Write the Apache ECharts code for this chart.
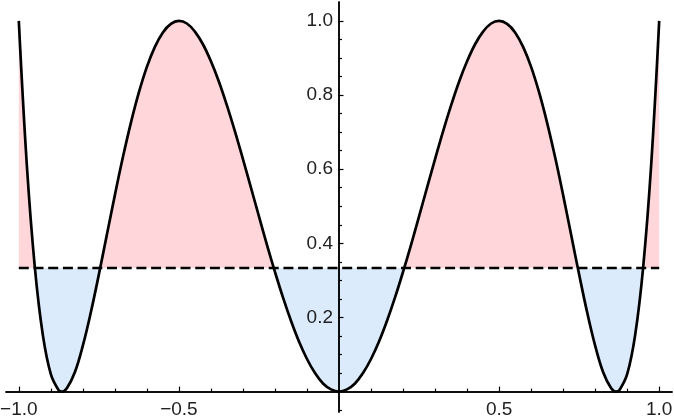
<!DOCTYPE html>
<html>
<head>
<meta charset="utf-8">
<script src="https://cdn.jsdelivr.net/npm/echarts@6/dist/echarts.min.js"></script>
<style>
  html, body { margin: 0; padding: 0; background: #fff; }
  #chart { width: 674px; height: 420px; }
</style>
</head>
<body>
<div id="chart"></div>
<script>
// sample positions along x and curve heights
var xs = [-1, -0.975, -0.95, -0.925, -0.9, -0.875, -0.866, -0.85, -0.825, -0.8,
  -0.775, -0.75, -0.725, -0.7, -0.675, -0.65, -0.625, -0.6, -0.575, -0.55,
  -0.525, -0.5, -0.475, -0.45, -0.425, -0.4, -0.375, -0.35, -0.325, -0.3,
  -0.275, -0.25, -0.225, -0.2, -0.175, -0.15, -0.125, -0.1, -0.075, -0.05,
  -0.025, 0, 0.025, 0.05, 0.075, 0.1, 0.125, 0.15, 0.175, 0.2,
  0.225, 0.25, 0.275, 0.3, 0.325, 0.35, 0.375, 0.4, 0.425, 0.45,
  0.475, 0.5, 0.525, 0.55, 0.575, 0.6, 0.625, 0.65, 0.675, 0.7,
  0.725, 0.75, 0.775, 0.8, 0.825, 0.85, 0.866, 0.875, 0.9, 0.925,
  0.95, 0.975, 1]
var ys = [1.000, 0.612, 0.336, 0.153, 0.047, 0.003, 0.000, 0.009, 0.052, 0.124,
  0.214, 0.316, 0.423, 0.530, 0.632, 0.725, 0.807, 0.876, 0.930, 0.969,
  0.992, 1.000, 0.993, 0.971, 0.937, 0.891, 0.836, 0.772, 0.702, 0.627,
  0.550, 0.473, 0.396, 0.323, 0.254, 0.191, 0.135, 0.088, 0.050, 0.022,
  0.006, 0.000, 0.006, 0.022, 0.050, 0.088, 0.135, 0.191, 0.254, 0.323,
  0.396, 0.473, 0.550, 0.627, 0.702, 0.772, 0.836, 0.891, 0.937, 0.971,
  0.993, 1.000, 0.992, 0.969, 0.930, 0.876, 0.807, 0.725, 0.632, 0.530,
  0.423, 0.316, 0.214, 0.124, 0.052, 0.009, 0.000, 0.003, 0.047, 0.153,
  0.336, 0.612, 1.000]
var level = 1 / 3
var levelX = [-1, 1]

var xMajor = [-1, -0.5, 0.5, 1]
var xMinor = [-0.9, -0.8, -0.7, -0.6, -0.4, -0.3, -0.2, -0.1,
  0.1, 0.2, 0.3, 0.4, 0.6, 0.7, 0.8, 0.9]
var yMajor = [0.2, 0.4, 0.6, 0.8, 1.0]
var yMinor = [-0.05, 0.05, 0.1, 0.15, 0.25, 0.3, 0.35, 0.45, 0.5, 0.55,
  0.65, 0.7, 0.75, 0.85, 0.9, 0.95]

var xRange = [-1.04, 1.04]
var yRange = [-0.055, 1.051]

var curve = xs.map(function (x, i) { return [x, ys[i]] })
var levelLine = levelX.map(function (x) { return [x, level] })

var font = 'Liberation Sans, Arial, sans-serif'
var above = '#ffd6d9'
var below = '#dcebfc'

function fmt (v) {
  return Number(v).toFixed(1).replace('-', '\u2212')
}

// axis carrying the line and ticks, crossing at zero
function tickAxis (idx, pos, ticks, len, range) {
  return {
    type: 'value', min: range[0], max: range[1], position: pos, z: 5,
    axisLine: { onZero: true, onZeroAxisIndex: idx, lineStyle: { color: '#000', width: 1.5 } },
    splitLine: { show: false },
    axisTick: { inside: true, length: len, customValues: ticks, lineStyle: { color: '#000', width: 1.2 } },
    axisLabel: { show: false }
  }
}
// axis carrying only the labels, pushed in from the grid edge to sit by the zero line
// (v6 keeps labels of an onZero axis at the grid edge)
function labelAxis (pos, ticks, margin, range) {
  return {
    type: 'value', min: range[0], max: range[1], position: pos, z: 5,
    axisLine: { show: false, onZero: false },
    splitLine: { show: false },
    axisTick: { show: false },
    axisLabel: { customValues: ticks, formatter: fmt, margin: margin, fontSize: 19, color: '#222', fontFamily: font }
  }
}

var chart = echarts.init(document.getElementById('chart'))
chart.setOption({
  animation: false,
  grid: { left: 6, right: 2, top: 2, bottom: 8, containLabel: false, outerBoundsMode: 'none' },
  xAxis: [
    tickAxis(0, 'bottom', xMajor, 5, xRange),
    tickAxis(1, 'bottom', xMinor, 3, xRange),
    labelAxis('bottom', xMajor, -11.5, xRange)
  ],
  yAxis: [
    tickAxis(0, 'left', yMajor, 4.5, yRange),
    tickAxis(1, 'left', yMinor, 3, yRange),
    labelAxis('left', yMajor, -327, yRange)
  ],
  series: [
    {
      // filling between the curve and the dashed level, colour set below
      type: 'line', data: curve, smooth: 0.4, symbol: 'none', z: 1,
      lineStyle: { width: 0 },
      areaStyle: { origin: level, opacity: 1, color: below },
      silent: true
    },
    {
      type: 'line', data: levelLine, symbol: 'none', z: 6,
      lineStyle: { color: '#000', width: 2.5, type: [10, 4.7] },
      silent: true
    },
    {
      type: 'line', data: curve, smooth: 0.4, symbol: 'none', z: 7,
      lineStyle: { color: '#000', width: 2.7 },
      silent: true
    }
  ]
})

// split the fill colour at the level line: pink above, blue below
var h = chart.getHeight()
var t = chart.convertToPixel({ yAxisIndex: 0 }, level) / h
chart.setOption({
  series: [{
    areaStyle: {
      color: new echarts.graphic.LinearGradient(0, 0, 0, h, [
        { offset: 0, color: above },
        { offset: t, color: above },
        { offset: t, color: below },
        { offset: 1, color: below }
      ], true)
    }
  }]
})
</script>
</body>
</html>
